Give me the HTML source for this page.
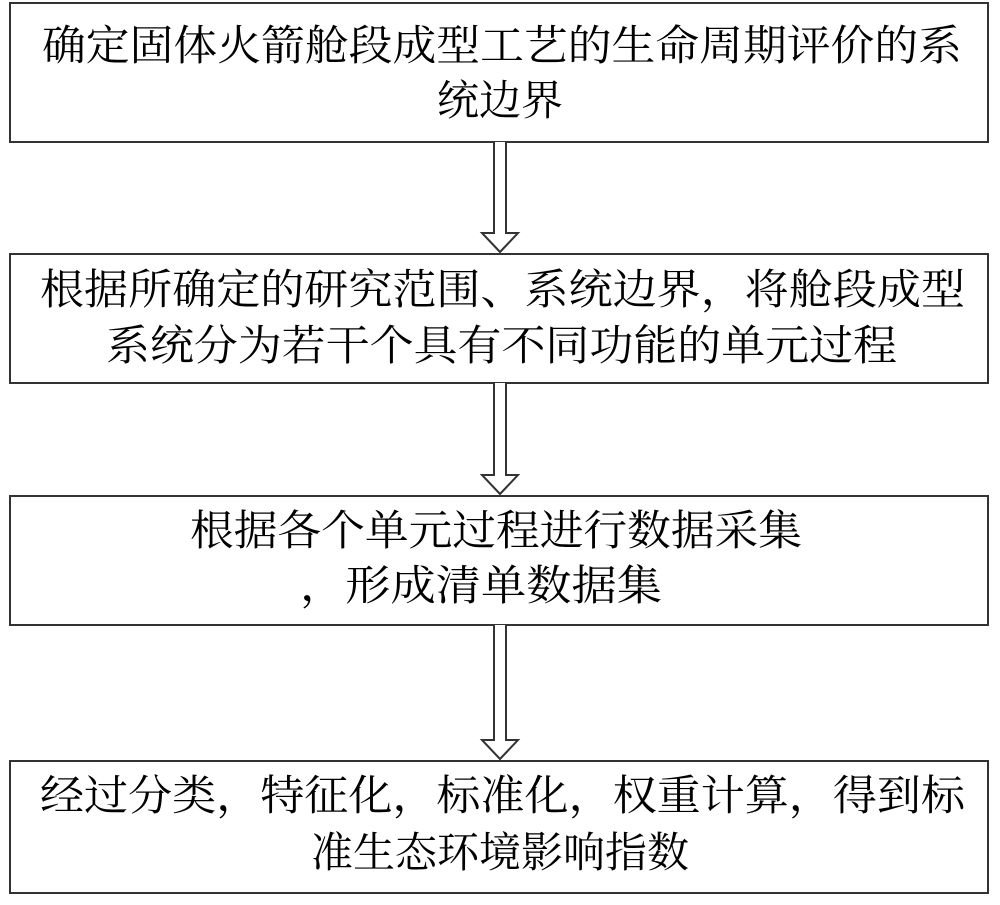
<!DOCTYPE html>
<html><head><meta charset="utf-8"><style>
html,body{margin:0;padding:0;background:#fff;width:1000px;height:905px;overflow:hidden}
svg{display:block}
text{font-family:"Liberation Serif","Noto Serif CJK SC",serif;font-size:42px;fill:#000}
</style></head><body>
<svg width="1000" height="905" viewBox="0 0 1000 905">
<g fill="none" stroke="#333" stroke-width="2">
<rect x="10" y="3" width="978" height="139"/>
<rect x="10" y="254" width="978" height="129"/>
<rect x="10" y="496" width="978" height="129"/>
<rect x="10" y="761" width="978" height="132"/>
<path d="M494,142 V233 H482 L500,252 L518,233 H506 V142" fill="#fff"/>
<path d="M494,383 V475 H482 L500,494 L518,475 H506 V383" fill="#fff"/>
<path d="M494,625 V740 H482 L500,759 L518,740 H506 V625" fill="#fff"/>
</g>
<text x="42" y="60" textLength="920" lengthAdjust="spacingAndGlyphs">确定固体火箭舱段成型工艺的生命周期评价的系</text>
<text x="500" y="115" text-anchor="middle">统边界</text>
<text x="40" y="304" textLength="925" lengthAdjust="spacingAndGlyphs">根据所确定的研究范围、系统边界，将舱段成型</text>
<text x="106" y="360" textLength="791" lengthAdjust="spacingAndGlyphs">系统分为若干个具有不同功能的单元过程</text>
<text x="190" y="545" textLength="612" lengthAdjust="spacingAndGlyphs">根据各个单元过程进行数据采集</text>
<text x="300" y="600" textLength="362" lengthAdjust="spacingAndGlyphs">，形成清单数据集</text>
<text x="40" y="810" textLength="925" lengthAdjust="spacingAndGlyphs">经过分类，特征化，标准化，权重计算，得到标</text>
<text x="500" y="867" text-anchor="middle">准生态环境影响指数</text>
</svg>
</body></html>
